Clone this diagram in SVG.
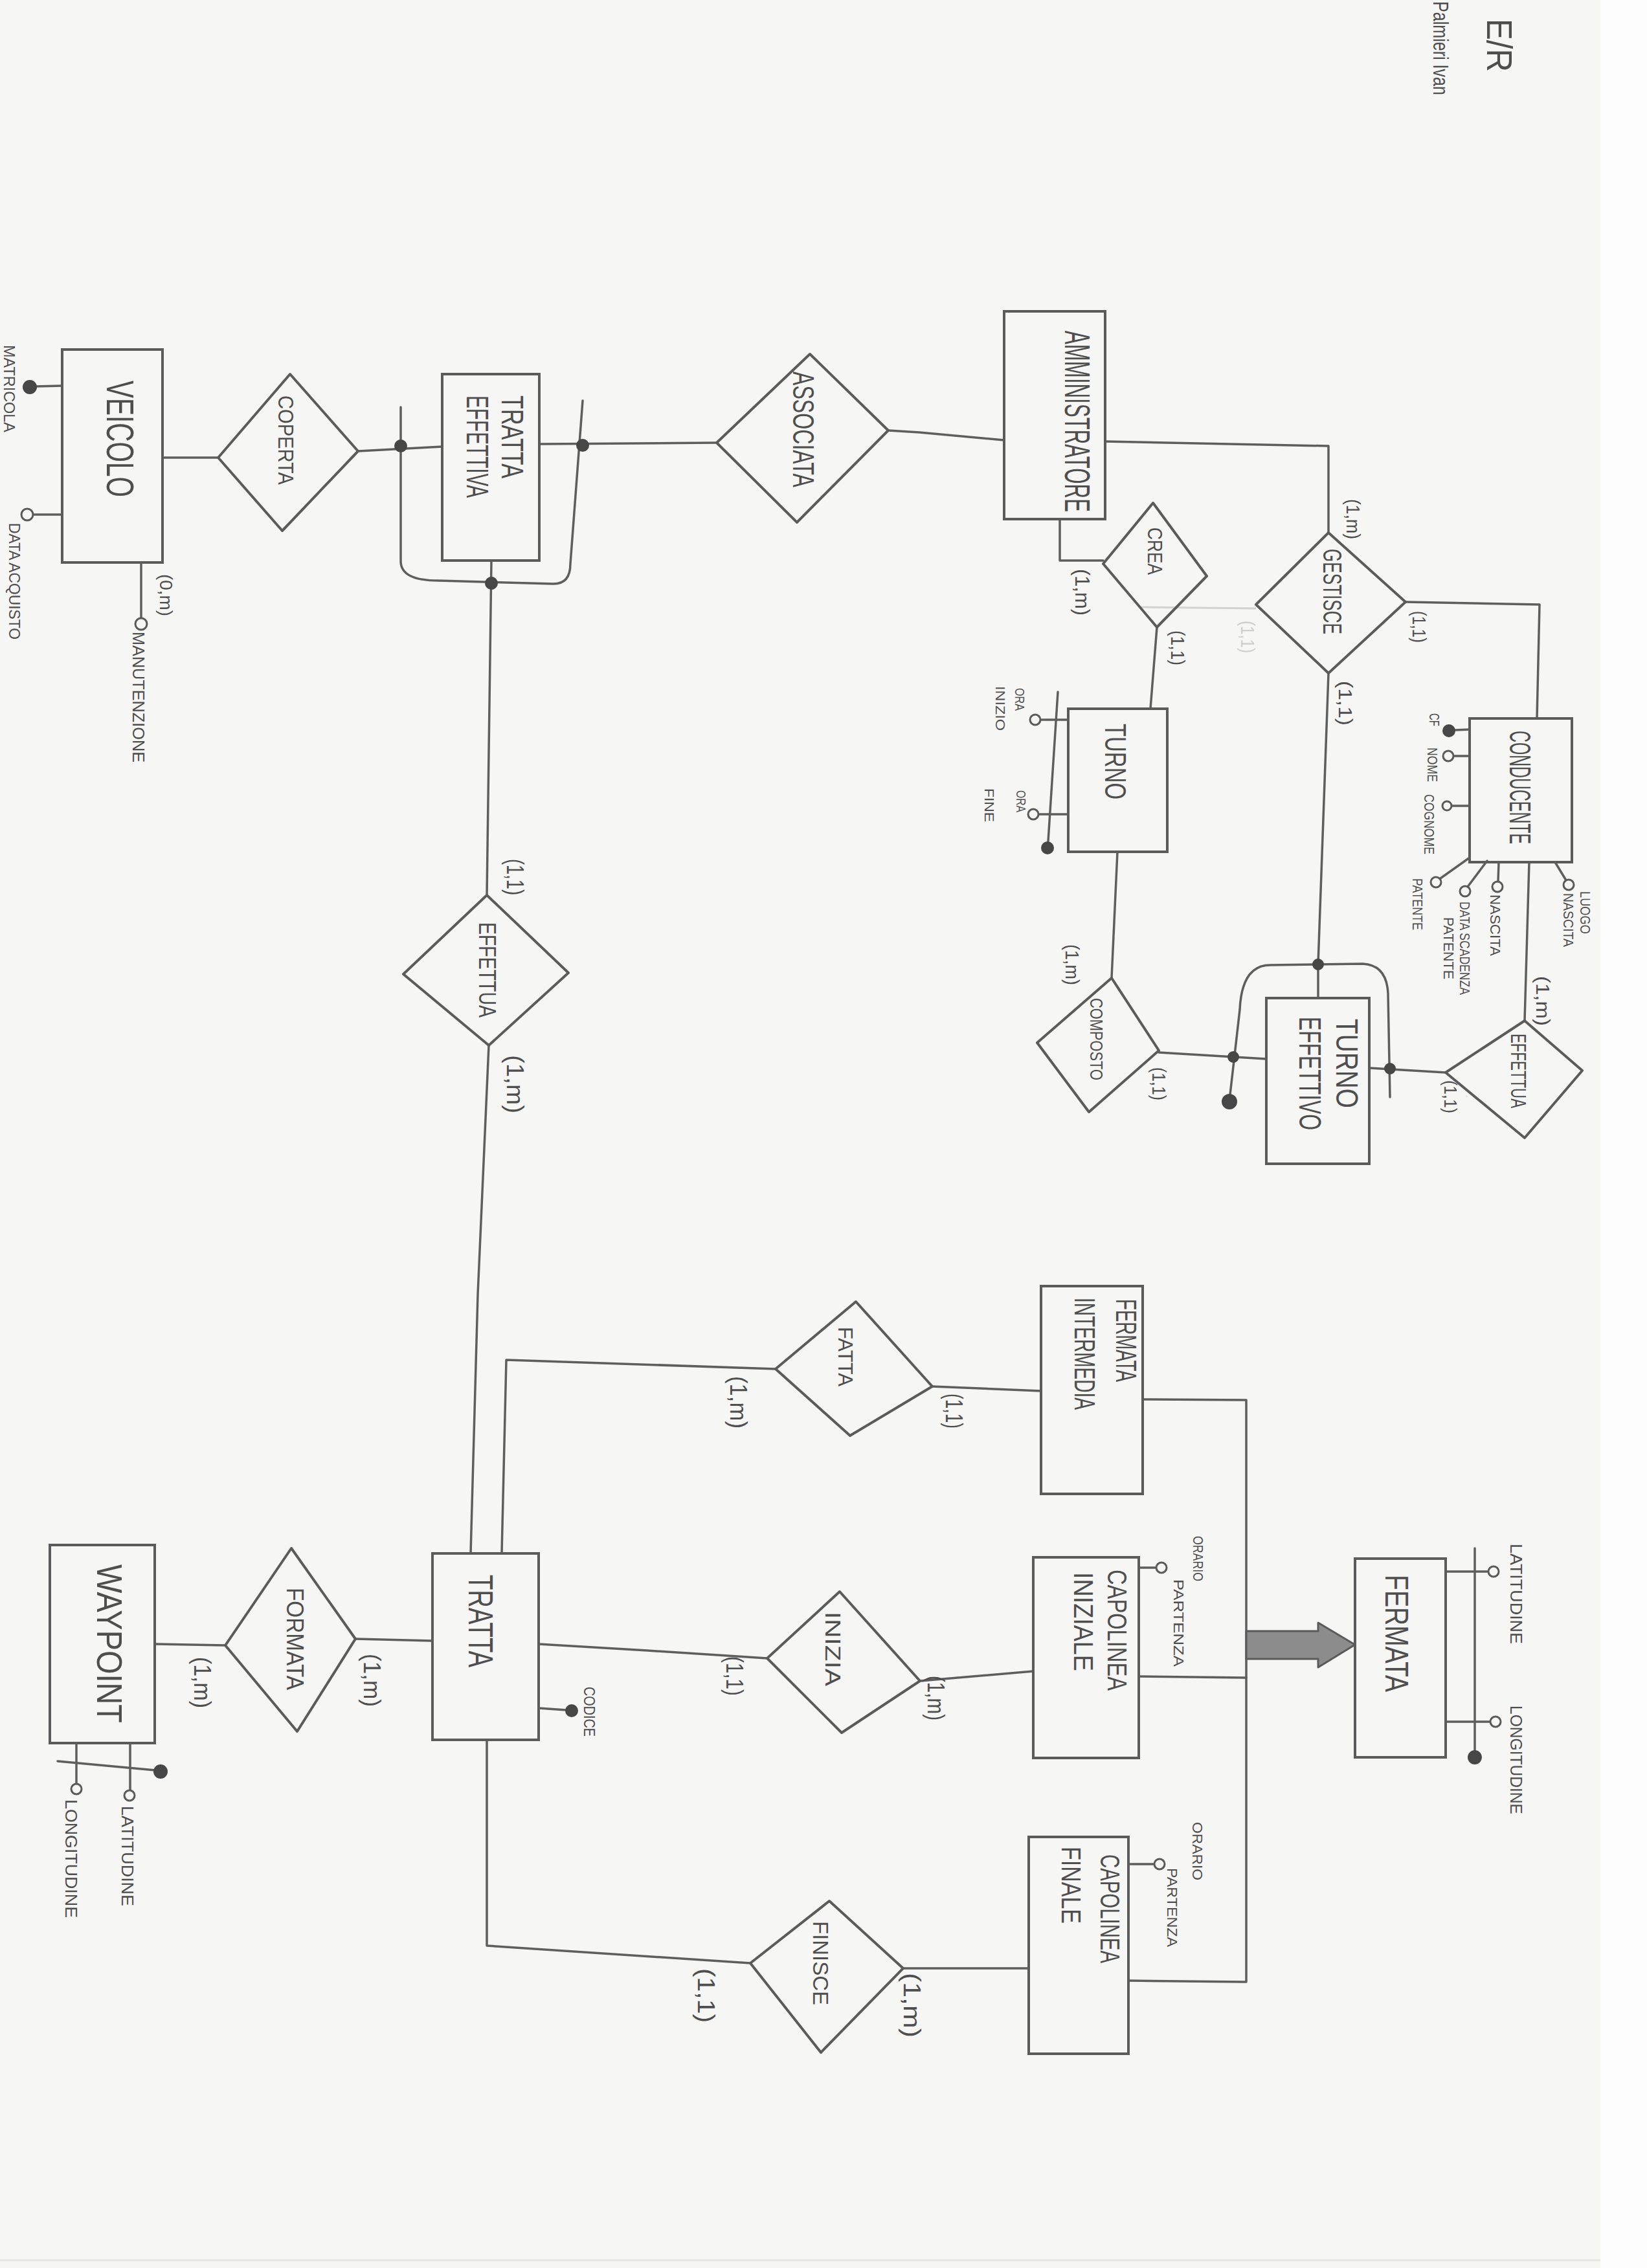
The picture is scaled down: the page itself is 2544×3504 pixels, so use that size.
<svg xmlns="http://www.w3.org/2000/svg" width="2544" height="3504" viewBox="0 0 2544 3504">
<style>
  .paper{fill:#f6f6f5}
  .edge{fill:#fdfdfd}
  .ent rect{fill:none;stroke:#5b5b5b;stroke-width:4}
  .rel polygon{fill:none;stroke:#5b5b5b;stroke-width:4;stroke-linejoin:round}
  .ln{fill:none;stroke:#5e5e5e;stroke-width:3.5;stroke-linecap:round;stroke-linejoin:round}
  .faint{fill:none;stroke:#d2d2d2;stroke-width:3}
  text{font-family:"Liberation Sans","DejaVu Sans",sans-serif;fill:#4e4e4e;dominant-baseline:central;text-anchor:start}
  .e{font-size:48px}
  .r{font-size:36px}
  .a{font-size:22px}
  .c{font-size:36px}
  .ft{fill:#cfcfcf}
  .key{fill:#474747;stroke:#474747;stroke-width:2}
  .opt{fill:#f6f6f5;stroke:#5a5a5a;stroke-width:3}
  .isa{fill:#8c8c8c;stroke:#5a5a5a;stroke-width:3;stroke-linejoin:round}
</style>

<!-- sheet -->
<rect class="paper" x="0" y="0" width="2544" height="3504"/>
<rect class="edge" x="2472" y="0" width="72" height="3504"/>
<line x1="0" y1="3492" x2="2472" y2="3492" stroke="#e4e4e4" stroke-width="3"/>

<!-- title -->
<g id="title">
  <text transform="translate(2316,29) rotate(90)" style="font-size:56px" textLength="82" lengthAdjust="spacingAndGlyphs">E/R</text>
  <text transform="translate(2226,2) rotate(90)" style="font-size:34px" textLength="145" lengthAdjust="spacingAndGlyphs">Palmieri Ivan</text>
</g>

<!-- connectors -->
<g id="connectors">
  <polyline class="ln" points="251,707 337,707"/>
  <polyline class="ln" points="553,697 683,690"/>
  <polyline class="ln" points="833,686 1107,684"/>
  <polyline class="ln" points="1372,665 1420,668 1551,680"/>
  <polyline class="ln" points="1707,682 2052,689 2052,823"/>
  <polyline class="ln" points="1637,802 1637,866 1704,866"/>
  <polyline class="ln" points="1787,969 1777,1095"/>
  <polyline class="ln" points="2171,930 2378,934 2374,1110"/>
  <polyline class="ln" points="2052,1040 2036,1489 2036,1542"/>
  <polyline class="ln" points="1726,1316 1717,1511"/>
  <polyline class="ln" points="1790,1626 1956,1636"/>
  <polyline class="ln" points="2115,1650 2233,1657"/>
  <polyline class="ln" points="2355,1577 2362,1332"/>
  <polyline class="ln" points="759,866 752,1383"/>
  <polyline class="ln" points="755,1615 738,2000 727,2400"/>
  <polyline class="ln" points="1198,2115 782,2101 775,2400"/>
  <polyline class="ln" points="1440,2142 1608,2149"/>
  <polyline class="ln" points="832,2540 1000,2550 1185,2562"/>
  <polyline class="ln" points="1421,2597 1596,2582"/>
  <polyline class="ln" points="752,2688 752,3006 1159,3033"/>
  <polyline class="ln" points="1395,3041 1589,3041"/>
  <polyline class="ln" points="239,2540 348,2542"/>
  <polyline class="ln" points="549,2532 668,2535"/>
  <!-- erased link, still visible on the sheet -->
  <line class="faint" x1="1761" y1="938" x2="1940" y2="940"/>
  <!-- generalisation of FERMATA -->
  <polyline class="ln" points="1765,2162 1925,2163 1925,3062 1743,3060"/>
  <polyline class="ln" points="1759,2590 1925,2592"/>
  <path class="isa" d="M1925,2520 L2036,2520 L2036,2507 L2093,2541 L2036,2576 L2036,2563 L1925,2563 Z"/>
</g>

<!-- cardinalities -->
<g id="cardinalities">
  <text class="c" transform="translate(256,887) rotate(90)" style="font-size:28px" textLength="65" lengthAdjust="spacingAndGlyphs">(0,m)</text>
  <text class="c" transform="translate(795,1327) rotate(90)" textLength="56" lengthAdjust="spacingAndGlyphs">(1,1)</text>
  <text class="c" transform="translate(795,1630) rotate(90)" textLength="90" lengthAdjust="spacingAndGlyphs">(1,m)</text>
  <text class="c" transform="translate(2090,771) rotate(90)" style="font-size:30px" textLength="62" lengthAdjust="spacingAndGlyphs">(1,m)</text>
  <text class="c" transform="translate(2192,944) rotate(90)" style="font-size:30px" textLength="49" lengthAdjust="spacingAndGlyphs">(1,1)</text>
  <text class="c ft" transform="translate(1927,959) rotate(90)" style="font-size:30px" textLength="50" lengthAdjust="spacingAndGlyphs">(1,1)</text>
  <text class="c" transform="translate(1672,879) rotate(90)" style="font-size:32px" textLength="72" lengthAdjust="spacingAndGlyphs">(1,m)</text>
  <text class="c" transform="translate(1819,974) rotate(90)" style="font-size:30px" textLength="54" lengthAdjust="spacingAndGlyphs">(1,1)</text>
  <text class="c" transform="translate(2078,1052) rotate(90)" style="font-size:30px" textLength="69" lengthAdjust="spacingAndGlyphs">(1,1)</text>
  <text class="c" transform="translate(1656,1459) rotate(90)" style="font-size:30px" textLength="63" lengthAdjust="spacingAndGlyphs">(1,m)</text>
  <text class="c" transform="translate(1790,1649) rotate(90)" style="font-size:30px" textLength="51" lengthAdjust="spacingAndGlyphs">(1,1)</text>
  <text class="c" transform="translate(2240,1669) rotate(90)" style="font-size:28px" textLength="51" lengthAdjust="spacingAndGlyphs">(1,1)</text>
  <text class="c" transform="translate(2383,1508) rotate(90)" style="font-size:30px" textLength="77" lengthAdjust="spacingAndGlyphs">(1,m)</text>
  <text class="c" transform="translate(1140,2126) rotate(90)" textLength="81" lengthAdjust="spacingAndGlyphs">(1,m)</text>
  <text class="c" transform="translate(1473,2153) rotate(90)" textLength="54" lengthAdjust="spacingAndGlyphs">(1,1)</text>
  <text class="c" transform="translate(1134,2559) rotate(90)" textLength="61" lengthAdjust="spacingAndGlyphs">(1,1)</text>
  <text class="c" transform="translate(1445,2589) rotate(90)" textLength="69" lengthAdjust="spacingAndGlyphs">(1,m)</text>
  <text class="c" transform="translate(1090,3041) rotate(90)" textLength="84" lengthAdjust="spacingAndGlyphs">(1,1)</text>
  <text class="c" transform="translate(1408,3048) rotate(90)" textLength="100" lengthAdjust="spacingAndGlyphs">(1,m)</text>
  <text class="c" transform="translate(312,2560) rotate(90)" textLength="79" lengthAdjust="spacingAndGlyphs">(1,m)</text>
  <text class="c" transform="translate(574,2555) rotate(90)" textLength="82" lengthAdjust="spacingAndGlyphs">(1,m)</text>
</g>

<!-- entities -->
<g id="veicolo" class="ent">
  <rect x="96" y="540" width="155" height="329"/>
  <text class="e" transform="translate(185,588) rotate(90)" style="font-size:60px" textLength="180" lengthAdjust="spacingAndGlyphs">VEICOLO</text>
  <line class="ln" x1="96" y1="596" x2="54" y2="597"/>
  <circle class="key" cx="46" cy="598" r="10"/>
  <text class="a" transform="translate(14,533) rotate(90)" style="font-size:24px" textLength="135" lengthAdjust="spacingAndGlyphs">MATRICOLA</text>
  <line class="ln" x1="96" y1="795" x2="51" y2="795"/>
  <circle class="opt" cx="42" cy="795" r="9"/>
  <text class="a" transform="translate(22,808) rotate(90)" style="font-size:24px" textLength="180" lengthAdjust="spacingAndGlyphs">DATA ACQUISTO</text>
  <line class="ln" x1="218" y1="869" x2="218" y2="955"/>
  <circle class="opt" cx="218" cy="964" r="9"/>
  <text class="a" transform="translate(214,976) rotate(90)" style="font-size:26px" textLength="202" lengthAdjust="spacingAndGlyphs">MANUTENZIONE</text>
</g>

<g id="tratta-effettiva" class="ent">
  <rect x="683" y="578" width="150" height="288"/>
  <text class="e" transform="translate(791,611) rotate(90)" textLength="128" lengthAdjust="spacingAndGlyphs">TRATTA</text>
  <text class="e" transform="translate(737,611) rotate(90)" textLength="158" lengthAdjust="spacingAndGlyphs">EFFETTIVA</text>
  <!-- external identifier -->
  <path class="ln" d="M619,629 L619,868 Q620,897 677,897 L855,902 Q881,902 881,871 L900,619"/>
  <circle class="key" cx="619" cy="689" r="9"/>
  <circle class="key" cx="900" cy="688" r="9"/>
  <circle class="key" cx="759" cy="901" r="9"/>
</g>

<g id="amministratore" class="ent">
  <rect x="1551" y="481" width="156" height="321"/>
  <text class="e" transform="translate(1664,511) rotate(90)" style="font-size:56px" textLength="280" lengthAdjust="spacingAndGlyphs">AMMINISTRATORE</text>
</g>

<g id="conducente" class="ent">
  <rect x="2270" y="1110" width="158" height="222"/>
  <text class="e" transform="translate(2348,1129) rotate(90)" style="font-size:46px" textLength="175" lengthAdjust="spacingAndGlyphs">CONDUCENTE</text>
  <line class="ln" x1="2270" y1="1127" x2="2246" y2="1128"/>
  <circle class="key" cx="2238" cy="1129" r="9"/>
  <text class="a" transform="translate(2215,1102) rotate(90)" textLength="20" lengthAdjust="spacingAndGlyphs">CF</text>
  <line class="ln" x1="2270" y1="1168" x2="2245" y2="1168"/>
  <circle class="opt" cx="2237" cy="1168" r="8"/>
  <text class="a" transform="translate(2212,1155) rotate(90)" textLength="53" lengthAdjust="spacingAndGlyphs">NOME</text>
  <line class="ln" x1="2270" y1="1245" x2="2243" y2="1245"/>
  <circle class="opt" cx="2235" cy="1245" r="7"/>
  <text class="a" transform="translate(2207,1227) rotate(90)" textLength="93" lengthAdjust="spacingAndGlyphs">COGNOME</text>
  <line class="ln" x1="2270" y1="1325" x2="2225" y2="1357"/>
  <circle class="opt" cx="2218" cy="1363" r="8"/>
  <text class="a" transform="translate(2189,1357) rotate(90)" textLength="80" lengthAdjust="spacingAndGlyphs">PATENTE</text>
  <line class="ln" x1="2297" y1="1330" x2="2267" y2="1370"/>
  <circle class="opt" cx="2263" cy="1377" r="8"/>
  <text class="a" transform="translate(2262,1393) rotate(90)" textLength="144" lengthAdjust="spacingAndGlyphs">DATA SCADENZA</text>
  <text class="a" transform="translate(2237,1417) rotate(90)" textLength="96" lengthAdjust="spacingAndGlyphs">PATENTE</text>
  <line class="ln" x1="2315" y1="1332" x2="2314" y2="1362"/>
  <circle class="opt" cx="2313" cy="1370" r="8"/>
  <text class="a" transform="translate(2309,1382) rotate(90)" textLength="95" lengthAdjust="spacingAndGlyphs">NASCITA</text>
  <line class="ln" x1="2402" y1="1332" x2="2419" y2="1360"/>
  <circle class="opt" cx="2423" cy="1367" r="8"/>
  <text class="a" transform="translate(2448,1377) rotate(90)" textLength="66" lengthAdjust="spacingAndGlyphs">LUOGO</text>
  <text class="a" transform="translate(2422,1380) rotate(90)" textLength="83" lengthAdjust="spacingAndGlyphs">NASCITA</text>
</g>

<g id="turno" class="ent">
  <rect x="1650" y="1095" width="153" height="221"/>
  <text class="e" transform="translate(1723,1118) rotate(90)" style="font-size:46px" textLength="117" lengthAdjust="spacingAndGlyphs">TURNO</text>
  <line class="ln" x1="1650" y1="1112" x2="1607" y2="1112"/>
  <circle class="opt" cx="1599" cy="1112" r="8"/>
  <text class="a" transform="translate(1575,1063) rotate(90)" style="font-size:20px" textLength="35" lengthAdjust="spacingAndGlyphs">ORA</text>
  <text class="a" transform="translate(1545,1060) rotate(90)" style="font-size:20px" textLength="69" lengthAdjust="spacingAndGlyphs">INIZIO</text>
  <line class="ln" x1="1650" y1="1258" x2="1604" y2="1258"/>
  <circle class="opt" cx="1596" cy="1258" r="8"/>
  <text class="a" transform="translate(1577,1221) rotate(90)" style="font-size:20px" textLength="34" lengthAdjust="spacingAndGlyphs">ORA</text>
  <text class="a" transform="translate(1528,1218) rotate(90)" style="font-size:20px" textLength="52" lengthAdjust="spacingAndGlyphs">FINE</text>
  <!-- composite key -->
  <line class="ln" x1="1634" y1="1069" x2="1619" y2="1300"/>
  <circle class="key" cx="1618" cy="1310" r="9"/>
</g>

<g id="turno-effettivo" class="ent">
  <rect x="1956" y="1542" width="159" height="256"/>
  <text class="e" transform="translate(2080,1574) rotate(90)" textLength="138" lengthAdjust="spacingAndGlyphs">TURNO</text>
  <text class="e" transform="translate(2023,1571) rotate(90)" textLength="175" lengthAdjust="spacingAndGlyphs">EFFETTIVO</text>
  <!-- external identifier -->
  <path class="ln" d="M1899,1700 L1915,1560 Q1918,1491 1962,1491 L2105,1489 Q2142,1491 2144,1535 L2147,1695"/>
  <circle class="key" cx="1899" cy="1702" r="11"/>
  <circle class="key" cx="1905" cy="1633" r="8"/>
  <circle class="key" cx="2036" cy="1490" r="8"/>
  <circle class="key" cx="2147" cy="1651" r="8"/>
</g>

<g id="fermata-intermedia" class="ent">
  <rect x="1608" y="1987" width="157" height="321"/>
  <text class="e" transform="translate(1739,2007) rotate(90)" style="font-size:44px" textLength="128" lengthAdjust="spacingAndGlyphs">FERMATA</text>
  <text class="e" transform="translate(1675,2005) rotate(90)" style="font-size:44px" textLength="173" lengthAdjust="spacingAndGlyphs">INTERMEDIA</text>
</g>

<g id="capolinea-iniziale" class="ent">
  <rect x="1596" y="2406" width="163" height="310"/>
  <text class="e" transform="translate(1725,2425) rotate(90)" style="font-size:42px" textLength="187" lengthAdjust="spacingAndGlyphs">CAPOLINEA</text>
  <text class="e" transform="translate(1673,2429) rotate(90)" style="font-size:42px" textLength="153" lengthAdjust="spacingAndGlyphs">INIZIALE</text>
  <line class="ln" x1="1759" y1="2422" x2="1786" y2="2422"/>
  <circle class="opt" cx="1794" cy="2422" r="8"/>
  <text class="a" transform="translate(1850,2373) rotate(90)" textLength="70" lengthAdjust="spacingAndGlyphs">ORARIO</text>
  <text class="a" transform="translate(1820,2440) rotate(90)" textLength="135" lengthAdjust="spacingAndGlyphs">PARTENZA</text>
</g>

<g id="capolinea-finale" class="ent">
  <rect x="1589" y="2838" width="154" height="335"/>
  <text class="e" transform="translate(1714,2865) rotate(90)" style="font-size:42px" textLength="168" lengthAdjust="spacingAndGlyphs">CAPOLINEA</text>
  <text class="e" transform="translate(1654,2853) rotate(90)" style="font-size:42px" textLength="119" lengthAdjust="spacingAndGlyphs">FINALE</text>
  <line class="ln" x1="1743" y1="2880" x2="1783" y2="2880"/>
  <circle class="opt" cx="1791" cy="2880" r="8"/>
  <text class="a" transform="translate(1849,2815) rotate(90)" textLength="90" lengthAdjust="spacingAndGlyphs">ORARIO</text>
  <text class="a" transform="translate(1810,2886) rotate(90)" textLength="122" lengthAdjust="spacingAndGlyphs">PARTENZA</text>
</g>

<g id="fermata" class="ent">
  <rect x="2093" y="2408" width="140" height="307"/>
  <text class="e" transform="translate(2157,2433) rotate(90)" style="font-size:50px" textLength="181" lengthAdjust="spacingAndGlyphs">FERMATA</text>
  <line class="ln" x1="2233" y1="2428" x2="2299" y2="2428"/>
  <circle class="opt" cx="2307" cy="2428" r="8"/>
  <text class="a" transform="translate(2342,2385) rotate(90)" style="font-size:26px" textLength="155" lengthAdjust="spacingAndGlyphs">LATITUDINE</text>
  <line class="ln" x1="2233" y1="2660" x2="2302" y2="2660"/>
  <circle class="opt" cx="2310" cy="2660" r="8"/>
  <text class="a" transform="translate(2342,2635) rotate(90)" style="font-size:26px" textLength="168" lengthAdjust="spacingAndGlyphs">LONGITUDINE</text>
  <!-- composite key -->
  <line class="ln" x1="2278" y1="2392" x2="2278" y2="2706"/>
  <circle class="key" cx="2278" cy="2715" r="10"/>
</g>

<g id="tratta" class="ent">
  <rect x="668" y="2400" width="164" height="288"/>
  <text class="e" transform="translate(743,2433) rotate(90)" style="font-size:54px" textLength="143" lengthAdjust="spacingAndGlyphs">TRATTA</text>
  <line class="ln" x1="832" y1="2639" x2="875" y2="2642"/>
  <circle class="key" cx="883" cy="2643" r="9"/>
  <text class="a" transform="translate(910,2606) rotate(90)" style="font-size:24px" textLength="77" lengthAdjust="spacingAndGlyphs">CODICE</text>
</g>

<g id="waypoint" class="ent">
  <rect x="77" y="2387" width="162" height="306"/>
  <text class="e" transform="translate(169,2417) rotate(90)" style="font-size:56px" textLength="245" lengthAdjust="spacingAndGlyphs">WAYPOINT</text>
  <line class="ln" x1="118" y1="2693" x2="118" y2="2756"/>
  <circle class="opt" cx="118" cy="2764" r="8"/>
  <text class="a" transform="translate(110,2780) rotate(90)" style="font-size:26px" textLength="183" lengthAdjust="spacingAndGlyphs">LONGITUDINE</text>
  <line class="ln" x1="201" y1="2693" x2="201" y2="2766"/>
  <circle class="opt" cx="200" cy="2774" r="8"/>
  <text class="a" transform="translate(197,2790) rotate(90)" style="font-size:26px" textLength="155" lengthAdjust="spacingAndGlyphs">LATITUDINE</text>
  <!-- composite key -->
  <line class="ln" x1="89" y1="2721" x2="240" y2="2735"/>
  <circle class="key" cx="248" cy="2737" r="10"/>
</g>

<!-- relationships -->
<g id="coperta" class="rel">
  <polygon points="337,707 448,578 553,697 436,820"/>
  <text class="r" transform="translate(442,611) rotate(90)" style="font-size:34px" textLength="138" lengthAdjust="spacingAndGlyphs">COPERTA</text>
</g>
<g id="associata" class="rel">
  <polygon points="1107,684 1251,547 1372,665 1231,807"/>
  <text class="r" transform="translate(1241,574) rotate(90)" style="font-size:46px" textLength="179" lengthAdjust="spacingAndGlyphs">ASSOCIATA</text>
</g>
<g id="gestisce" class="rel">
  <polygon points="2052,823 2171,930 2052,1040 1940,934"/>
  <text class="r" transform="translate(2058,848) rotate(90)" style="font-size:40px" textLength="132" lengthAdjust="spacingAndGlyphs">GESTISCE</text>
</g>
<g id="crea" class="rel">
  <polygon points="1781,777 1864,890 1787,969 1704,871"/>
  <text class="r" transform="translate(1784,815) rotate(90)" style="font-size:32px" textLength="73" lengthAdjust="spacingAndGlyphs">CREA</text>
</g>
<g id="composto" class="rel">
  <polygon points="1717,1511 1790,1623 1682,1718 1602,1611"/>
  <text class="r" transform="translate(1693,1542) rotate(90)" style="font-size:28px" textLength="127" lengthAdjust="spacingAndGlyphs">COMPOSTO</text>
</g>
<g id="effettua-conducente" class="rel">
  <polygon points="2233,1657 2355,1577 2444,1654 2355,1758"/>
  <text class="r" transform="translate(2346,1597) rotate(90)" style="font-size:34px" textLength="115" lengthAdjust="spacingAndGlyphs">EFFETTUA</text>
</g>
<g id="effettua-tratta" class="rel">
  <polygon points="752,1383 878,1503 755,1615 623,1505"/>
  <text class="r" transform="translate(752,1425) rotate(90)" style="font-size:36px" textLength="147" lengthAdjust="spacingAndGlyphs">EFFETTUA</text>
</g>
<g id="fatta" class="rel">
  <polygon points="1198,2115 1322,2011 1440,2142 1313,2218"/>
  <text class="r" transform="translate(1306,2050) rotate(90)" style="font-size:32px" textLength="92" lengthAdjust="spacingAndGlyphs">FATTA</text>
</g>
<g id="inizia" class="rel">
  <polygon points="1185,2562 1297,2459 1421,2597 1300,2677"/>
  <text class="r" transform="translate(1287,2490) rotate(90)" style="font-size:34px" textLength="115" lengthAdjust="spacingAndGlyphs">INIZIA</text>
</g>
<g id="finisce" class="rel">
  <polygon points="1159,3033 1281,2937 1395,3041 1268,3171"/>
  <text class="r" transform="translate(1268,2968) rotate(90)" style="font-size:34px" textLength="130" lengthAdjust="spacingAndGlyphs">FINISCE</text>
</g>
<g id="formata" class="rel">
  <polygon points="348,2542 450,2392 549,2532 459,2675"/>
  <text class="r" transform="translate(455,2453) rotate(90)" style="font-size:36px" textLength="158" lengthAdjust="spacingAndGlyphs">FORMATA</text>
</g>
</svg>
